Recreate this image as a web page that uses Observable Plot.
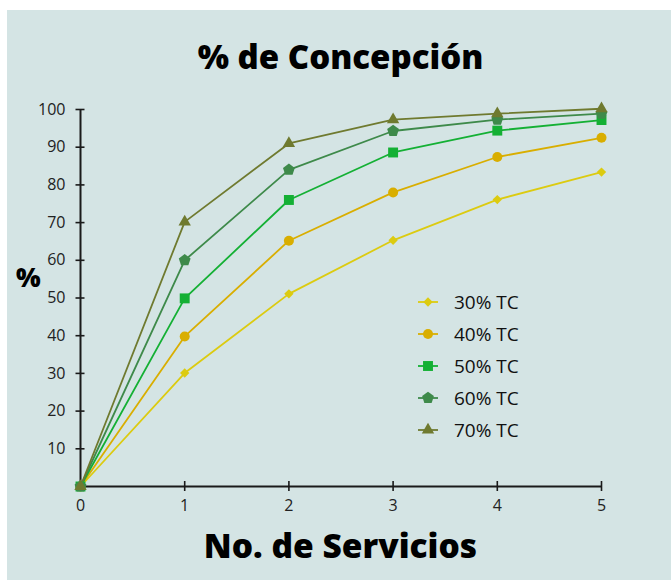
<!DOCTYPE html>
<html>
<head>
<meta charset="utf-8">
<script src="https://cdn.jsdelivr.net/npm/d3@7"></script>
<script src="https://cdn.jsdelivr.net/npm/@observablehq/plot@0.6"></script>
<style>
  html, body { margin: 0; padding: 0; background: #ffffff; }
  #panel { position: absolute; left: 7px; top: 10px; width: 664px; height: 570px; background: #d4e4e4; overflow: hidden; font-family: "Open Sans", sans-serif; }
  #chart { position: absolute; left: 0; top: 0; }
  .title { position: absolute; left: 0; width: 667px; text-align: center; top: 24px; font: 800 33px "Open Sans", sans-serif; color: #000; }
  .xlabel { position: absolute; left: 0; width: 667px; text-align: center; top: 512px; font: 800 33.5px "Open Sans", sans-serif; color: #000; }
  .ylabel { position: absolute; left: 9px; top: 249px; font: 800 26px "Open Sans", sans-serif; color: #000; }
  #legend { position: absolute; left: 410px; top: 276px; }
  .row { display: flex; align-items: center; height: 32px; }
  .row span { margin-left: 15px; font: 400 19px "Open Sans", sans-serif; color: #111; }
</style>
</head>
<body>
<div id="panel">
  <div class="title">% de Concepción</div>
  <div id="chart"></div>
  <div class="ylabel">%</div>
  <div class="xlabel">No. de Servicios</div>
  <div id="legend"></div>
</div>
<script>
const servicios = [0, 1, 2, 3, 4, 5];
const seriesNames = ["30% TC", "40% TC", "50% TC", "60% TC", "70% TC"];
const tc30 = [0, 30.1, 51.1, 65.3, 76.1, 83.4];
const tc40 = [0, 39.8, 65.2, 78.0, 87.4, 92.5];
const tc50 = [0, 49.9, 76.0, 88.6, 94.4, 97.2];
const tc60 = [0, 60.0, 84.0, 94.3, 97.3, 98.9];
const tc70 = [0, 70.2, 91.0, 97.3, 98.9, 100.2];
const colors = ["#dccb10", "#d9ae00", "#14b034", "#3e8a4a", "#6f7a2f"];
const yTicks = [10, 20, 30, 40, 50, 60, 70, 80, 90, 100];
const xTicks = [0, 1, 2, 3, 4, 5];

const pentagon = {
  draw(context, size) {
    const R = Math.sqrt(size / 2.378);
    for (let i = 0; i < 5; i++) {
      const a = -Math.PI / 2 + i * 2 * Math.PI / 5;
      const px = R * Math.cos(a), py = R * Math.sin(a);
      if (i === 0) context.moveTo(px, py); else context.lineTo(px, py);
    }
    context.closePath();
  }
};
const symbols = ["diamond2", "circle", "square", pentagon, "triangle"];
const radii = [4.2, 5, 5.6, 5.4, 4.6];

const allValues = [tc30, tc40, tc50, tc60, tc70];
const data = [];
allValues.forEach((vals, si) => vals.forEach((v, i) => data.push({ serie: seriesNames[si], si, x: servicios[i], y: v })));

const marks = [
  Plot.ruleX([0], { y1: 0, y2: 100, stroke: "#1a1a1a", strokeWidth: 2 }),
  Plot.ruleY([0], { x1: 0, x2: 5, stroke: "#1a1a1a", strokeWidth: 2 }),
  Plot.axisY({ ticks: yTicks, tickSize: 9, dx: 4.5, text: null, label: null, stroke: "#1a1a1a", strokeWidth: 1.6 }),
  Plot.axisY({ ticks: yTicks, tickSize: 0, tickPadding: 15, fontSize: 16, fill: "#222", label: null, tickFormat: "d", fontFamily: "Open Sans" }),
  Plot.axisX({ ticks: xTicks.slice(1), tickSize: 10, dy: -5, text: null, label: null, stroke: "#1a1a1a", strokeWidth: 1.6 }),
  Plot.axisX({ ticks: xTicks, tickSize: 0, tickPadding: 13, fontSize: 16, fill: "#222", label: null, tickFormat: "d", fontFamily: "Open Sans" })
];
seriesNames.forEach((name, si) => {
  const d = data.filter(r => r.si === si);
  marks.push(Plot.line(d, { x: "x", y: "y", stroke: colors[si], strokeWidth: 1.8 }));
});
seriesNames.forEach((name, si) => {
  const d = data.filter(r => r.si === si);
  marks.push(Plot.dot(d, { x: "x", y: "y", symbol: () => symbols[si], fill: colors[si], stroke: "none", r: radii[si] }));
});

const chart = Plot.plot({
  width: 664,
  height: 570,
  marginLeft: 73,
  marginRight: 70,
  marginTop: 99,
  marginBottom: 94,
  x: { domain: [0, 5], axis: null, label: null },
  y: { domain: [0, 100], axis: null, label: null },
  symbol: { type: "identity" },
  style: { background: "transparent", overflow: "visible" },
  marks
});
document.getElementById("chart").appendChild(chart);

// legend
const legend = document.getElementById("legend");
const d3symbols = [d3.symbolDiamond2, d3.symbolCircle, d3.symbolSquare, pentagon, d3.symbolTriangle];
seriesNames.forEach((name, si) => {
  const row = document.createElement("div");
  row.className = "row";
  const svg = d3.create("svg").attr("width", 22).attr("height", 16);
  svg.append("line").attr("x1", 1).attr("x2", 21).attr("y1", 8).attr("y2", 8).attr("stroke", colors[si]).attr("stroke-width", 1.8);
  svg.append("path").attr("transform", "translate(11,8)")
    .attr("d", d3.symbol(d3symbols[si], Math.PI * radii[si] * radii[si])())
    .attr("fill", colors[si]);
  row.appendChild(svg.node());
  const sp = document.createElement("span");
  sp.textContent = name;
  row.appendChild(sp);
  legend.appendChild(row);
});
</script>
</body>
</html>
